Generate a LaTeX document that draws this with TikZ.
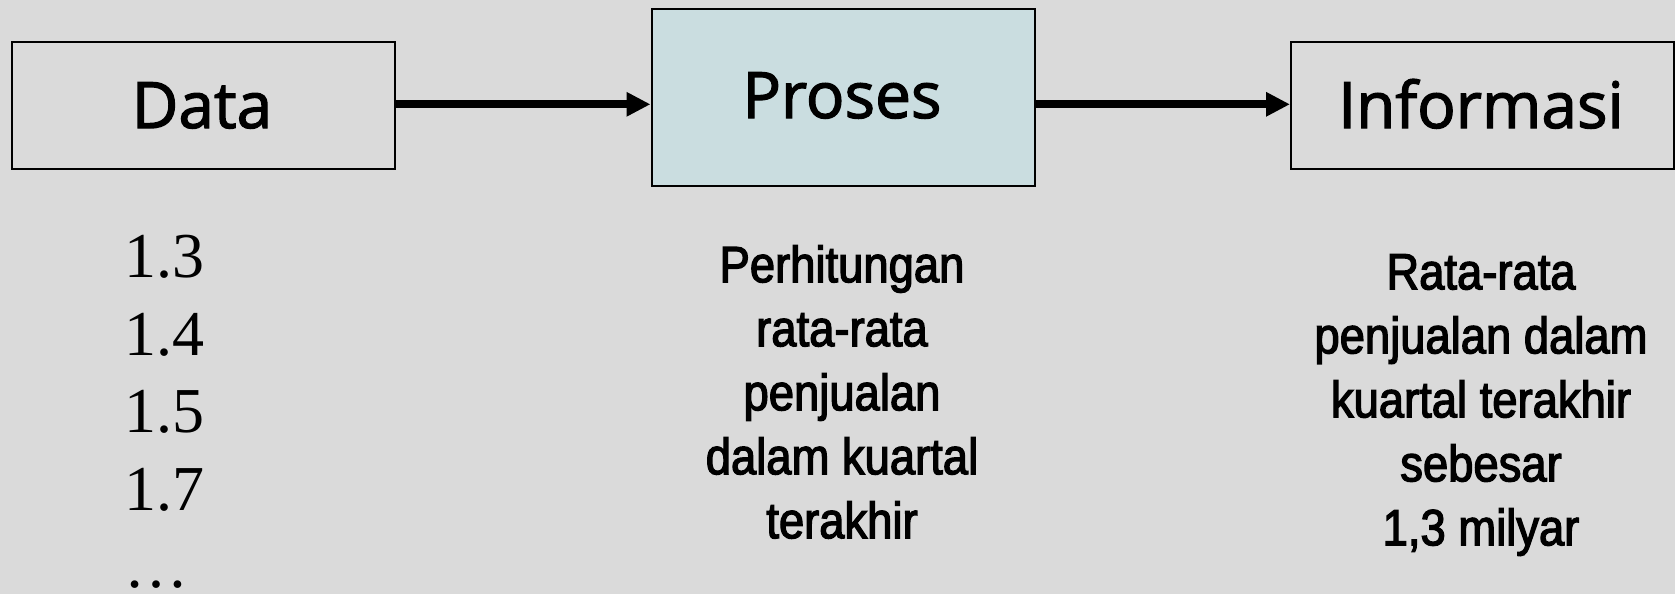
\documentclass[tikz,border=0pt]{standalone}
\usepackage{fontspec}
\setmainfont{Liberation Serif}
\newfontfamily\boxfont[FakeBold=2]{Open Sans}
\newfontfamily\narrowfont[FakeStretch=0.89,FakeBold=2.5]{Liberation Sans}
\usetikzlibrary{arrows.meta}
\definecolor{bg}{HTML}{DADADA}
\definecolor{procfill}{HTML}{CADDE0}
\begin{document}
\begin{tikzpicture}[x=1pt,y=-1pt,
  box/.style={draw=black,line width=2pt,inner sep=0pt,anchor=north west},
  boxlabel/.style={font=\boxfont\fontsize{64}{70}\selectfont,anchor=base},
  flow/.style={line width=8pt,-{Triangle[length=24pt,width=23pt]}},
  desc/.style={font=\narrowfont\fontsize{51}{64}\selectfont,align=center,anchor=north,inner sep=0pt},
  nums/.style={font=\fontsize{64}{77.5}\selectfont,align=left,anchor=north west,inner sep=0pt}]
\fill[bg] (0,0) rectangle (1675,594);
\useasboundingbox (0,0) rectangle (1675,594);
\node[box,minimum width=383.5pt,minimum height=127pt] (data) at (10.7,40.6) {};
\node[box,fill=procfill,minimum width=383.5pt,minimum height=176.3pt] (proses) at (650.5,8.5) {};
\node[box,minimum width=382.8pt,minimum height=127pt] (info) at (1290,40.6) {};
\node[boxlabel] (tdata) at (202,128) {Data};
\node[boxlabel] (tproses) at (842,118) {Proses};
\node[boxlabel] (tinfo) at (1481,128) {Informasi};
\coordinate (a1s) at (data.east |- 0,104.3);
\coordinate (a1e) at (proses.west |- 0,104.3);
\coordinate (a2s) at (proses.east |- 0,104.3);
\coordinate (a2e) at (info.west |- 0,104.3);
\draw[flow] (a1s) -- (a1e);
\draw[flow] (a2s) -- (a2e);
\node[nums] (numbers) at (124,235) {1.3\\1.4\\1.5\\1.7\\…};
\node[desc] (pdesc) at (842,245) {Perhitungan\\rata-rata\\penjualan\\dalam kuartal\\terakhir};
\node[desc] (idesc) at (1481,254) {Rata-rata\\penjualan dalam\\kuartal terakhir\\sebesar\\1,3 milyar};
\end{tikzpicture}
\end{document}
